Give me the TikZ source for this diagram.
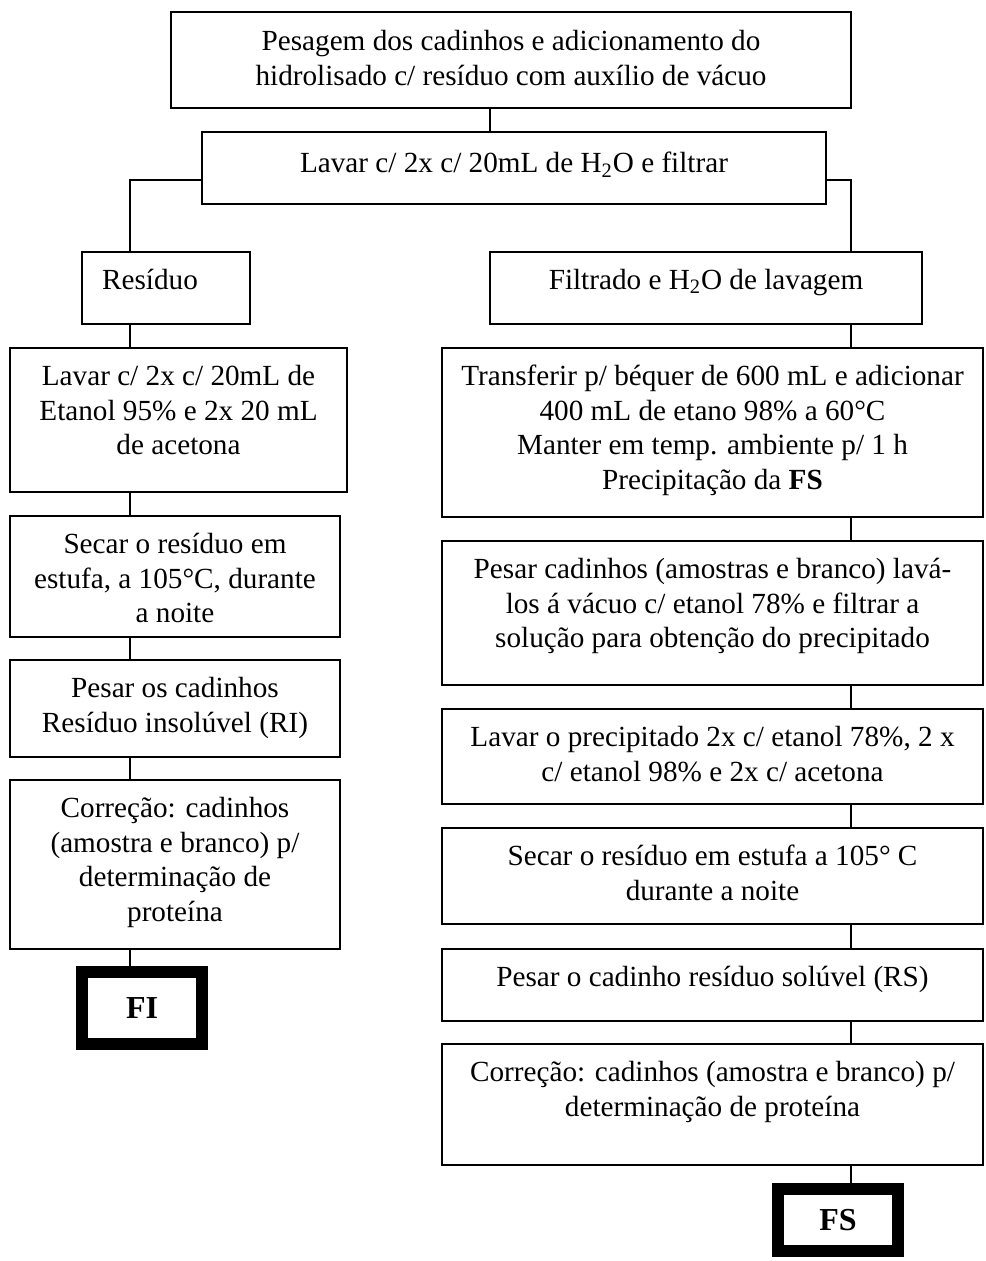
\documentclass[tikz,border=0pt]{standalone}
\usepackage{fontspec}
\setmainfont{Liberation Serif}
% box body: [first-baseline depth]{width px}{height px}{text}, text hangs from the top
\newcommand{\boxbody}[4][18.7pt]{%
  \parbox[c][\dimexpr #3pt/2\relax][t]{\dimexpr #2pt/2\relax}{\centering\rule{0pt}{#1}#4\par}}
\begin{document}
\begin{tikzpicture}[x=0.5pt,y=-0.5pt,
  stepbox/.style={draw, line width=0.75pt, inner sep=0pt, outer sep=0pt, anchor=north west,
    font=\fontsize{14.6pt}{17.3pt}\selectfont},
  finalbox/.style={draw, line width=6pt, inner sep=0pt, minimum width=60pt,
    font=\fontsize{16pt}{18pt}\selectfont\bfseries},
  link/.style={line width=0.7pt}]
\useasboundingbox (0,0) rectangle (985,1261);

% vertical spines of the connectors
\coordinate (spineT) at (490,0);
\coordinate (spineL) at (130,0);
\coordinate (spineR) at (851,0);
\coordinate (splitY) at (0,180);

% common trunk
\node[stepbox] (top) at (171,12) {\boxbody[19.5pt]{680}{96}{Pesagem dos cadinhos e adicionamento do\\hidrolisado c/ resíduo com auxílio de vácuo}};
\node[stepbox] (lavH) at (202,132) {\boxbody[20.5pt]{624}{72}{Lavar c/ 2x c/ 20mL de H\textsubscript{2}O e filtrar}};

% insoluble branch
\node[stepbox] (res) at (82,252) {\boxbody{168}{72}{\hspace*{-16pt}Resíduo}};
\node[stepbox] (lavE) at (10,348) {\boxbody{337}{144}{Lavar c/ 2x c/ 20mL de\\Etanol 95\% e 2x 20 mL\\de acetona}};
\node[stepbox] (secL) at (10,516) {\boxbody{330}{121}{Secar o resíduo em\\estufa, a 105°C, durante\\a noite}};
\node[stepbox] (pesL) at (10,660) {\boxbody{330}{97}{Pesar os cadinhos\\Resíduo insolúvel (RI)}};
\node[stepbox] (corL) at (10,780) {\boxbody{330}{169}{Correção: cadinhos\\(amostra e branco) p/\\determinação de\\proteína}};
\node[finalbox, minimum height=36pt] (fi) at (142,1008) {FI};

% soluble branch
\node[stepbox] (filt) at (490,252) {\boxbody{432}{72}{Filtrado e H\textsubscript{2}O de lavagem}};
\node[stepbox] (tra) at (442,348) {\boxbody{541}{169}{Transferir p/ béquer de 600 mL e adicionar\\400 mL de etano 98\% a 60°C\\Manter em temp. ambiente p/ 1 h\\Precipitação da \textbf{FS}}};
\node[stepbox] (pesR) at (442,541) {\boxbody{541}{144}{Pesar cadinhos (amostras e branco) lavá-\\los á vácuo c/ etanol 78\% e filtrar a\\solução para obtenção do precipitado}};
\node[stepbox] (lavR) at (442,709) {\boxbody{541}{95}{Lavar o precipitado 2x c/ etanol 78\%, 2 x\\c/ etanol 98\% e 2x c/ acetona}};
\node[stepbox] (secR) at (442,828) {\boxbody{541}{96}{Secar o resíduo em estufa a 105° C\\durante a noite}};
\node[stepbox] (pesoR) at (442,949) {\boxbody{541}{72}{Pesar o cadinho resíduo solúvel (RS)}};
\node[stepbox] (corR) at (442,1044) {\boxbody{541}{121}{Correção: cadinhos (amostra e branco) p/\\determinação de proteína}};
\node[finalbox, minimum height=31pt] (fs) at (838,1220) {FS};

% connectors
\draw[link] (top.south -| spineT) -- (lavH.north -| spineT);
\draw[link] (lavH.west |- splitY) -| (res.north -| spineL);
\draw[link] (lavH.east |- splitY) -| (filt.north -| spineR);

\draw[link] (res.south -| spineL) -- (lavE.north -| spineL);
\draw[link] (lavE.south -| spineL) -- (secL.north -| spineL);
\draw[link] (secL.south -| spineL) -- (pesL.north -| spineL);
\draw[link] (pesL.south -| spineL) -- (corL.north -| spineL);
\draw[link] (corL.south -| spineL) -- (fi.north -| spineL);

\draw[link] (filt.south -| spineR) -- (tra.north -| spineR);
\draw[link] (tra.south -| spineR) -- (pesR.north -| spineR);
\draw[link] (pesR.south -| spineR) -- (lavR.north -| spineR);
\draw[link] (lavR.south -| spineR) -- (secR.north -| spineR);
\draw[link] (secR.south -| spineR) -- (pesoR.north -| spineR);
\draw[link] (pesoR.south -| spineR) -- (corR.north -| spineR);
\draw[link] (corR.south -| spineR) -- (fs.north -| spineR);
\end{tikzpicture}
\end{document}
